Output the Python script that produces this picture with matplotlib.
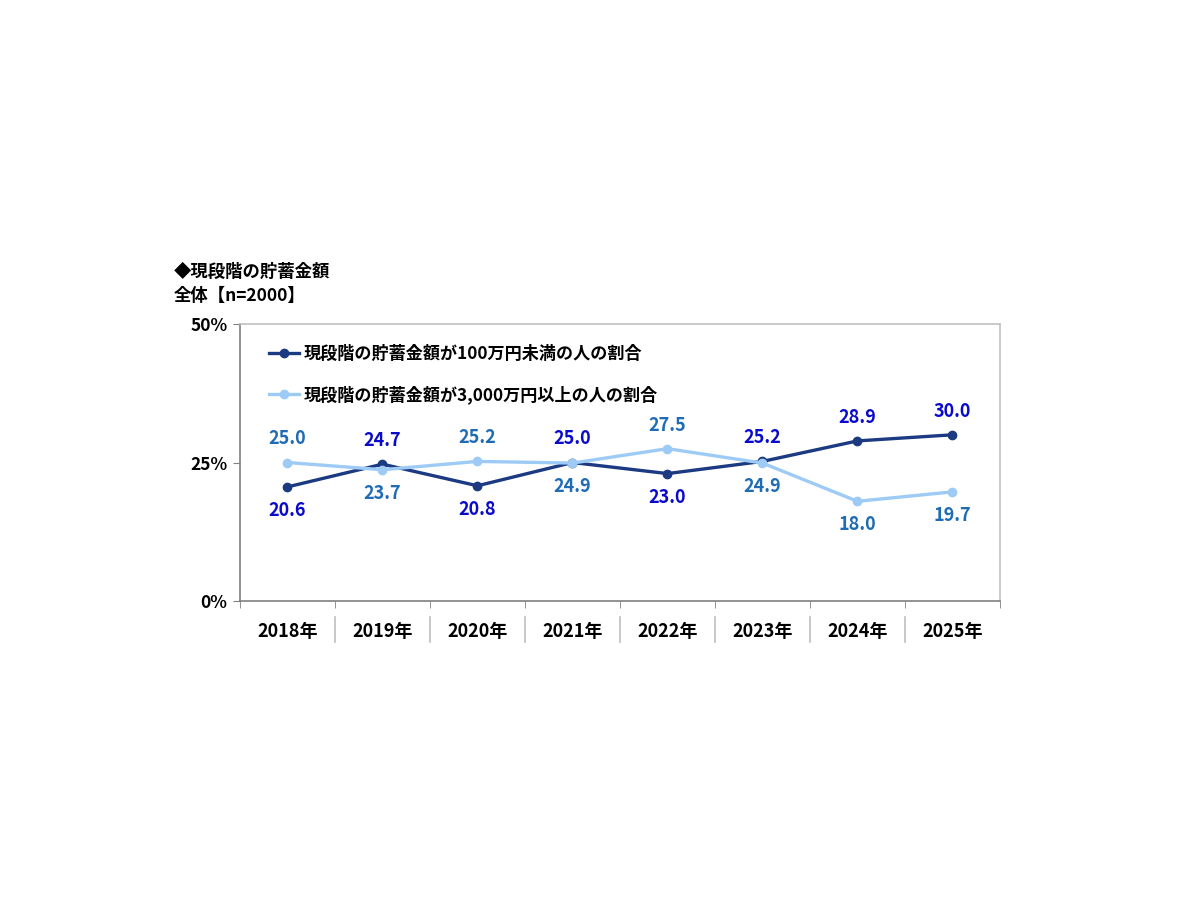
import matplotlib
matplotlib.use("Agg")
import matplotlib.pyplot as plt
import matplotlib.transforms as mtransforms

plt.rcParams['font.family'] = ['Noto Sans CJK JP', 'DejaVu Sans']

# datos
anios = ["2018年", "2019年", "2020年", "2021年", "2022年", "2023年", "2024年", "2025年"]
menos_100 = [20.6, 24.7, 20.8, 25.0, 23.0, 25.2, 28.9, 30.0]
mas_3000 = [25.0, 23.7, 25.2, 24.9, 27.5, 24.9, 18.0, 19.7]
# +1 arriba, -1 abajo
pos_menos_100 = [-1, 1, -1, 1, -1, 1, 1, 1]
pos_mas_3000 = [1, -1, 1, -1, 1, -1, -1, -1]
nombre_1 = "現段階の貯蓄金額が100万円未満の人の割合"
nombre_2 = "現段階の貯蓄金額が3,000万円以上の人の割合"

c_oscuro = "#1B3A82"
c_claro = "#9DCBF5"
c_txt_1 = "#0A0ACC"
c_txt_2 = "#1F6CB4"

fig = plt.figure(figsize=(12, 9), dpi=100)
ax = fig.add_axes([0.2, 0.3322, 0.6333, 0.3078])

x = list(range(len(anios)))
ax.plot(x, menos_100, color=c_oscuro, lw=2.4, marker="o", ms=6, label=nombre_1, zorder=3)
ax.plot(x, mas_3000, color=c_claro, lw=2.4, marker="o", ms=6, label=nombre_2, zorder=3)

for xi, v, p in zip(x, menos_100, pos_menos_100):
    ax.annotate(f"{v:.1f}", (xi, v), xytext=(0, 17 * p), textcoords="offset points",
                ha="center", va="center", fontsize=13, color=c_txt_1, fontweight="bold")
for xi, v, p in zip(x, mas_3000, pos_mas_3000):
    ax.annotate(f"{v:.1f}", (xi, v), xytext=(0, 17 * p), textcoords="offset points",
                ha="center", va="center", fontsize=13, color=c_txt_2, fontweight="semibold")

ax.set_xlim(-0.5, len(anios) - 0.5)
ax.set_ylim(0, 50)
ax.set_yticks([0, 25, 50])
ax.set_yticklabels(["0%", "25%", "50%"], fontsize=12.5, fontweight="bold")
ax.set_xticks(x)
ax.set_xticklabels(anios, fontsize=13, fontweight="bold")
ax.tick_params(axis="x", length=0, pad=15)
ax.set_xticks([i + 0.5 for i in range(-1, len(anios))], minor=True)
ax.tick_params(axis="x", which="minor", length=5, color="#808080")
ax.tick_params(axis="y", length=5, color="#808080", pad=4)

ax.spines["left"].set_color("#808080")
ax.spines["bottom"].set_color("#808080")
ax.spines["top"].set_color("#C0C0C0")
ax.spines["right"].set_color("#C0C0C0")
for s in ax.spines.values():
    s.set_linewidth(1.2)

# separadores entre etiquetas
trans = mtransforms.blended_transform_factory(ax.transData, ax.transAxes)
for i in range(len(anios) - 1):
    ax.plot([i + 0.5, i + 0.5], [-0.058, -0.148], transform=trans, color="#BFBFBF",
            lw=1.2, clip_on=False)

ax.legend(loc="upper left", bbox_to_anchor=(0.018, 0.98), frameon=False,
          handlelength=1.75, handletextpad=0.25, labelspacing=1.3,
          prop={"weight": "bold", "size": 12.3})

fig.text(0.145, 0.698, "◆現段階の貯蓄金額", fontsize=12.5, fontweight="bold", va="center")
fig.text(0.145, 0.671, "全体【n=2000】", fontsize=12.5, fontweight="bold", va="center")

fig.savefig("out.png", dpi=100)
